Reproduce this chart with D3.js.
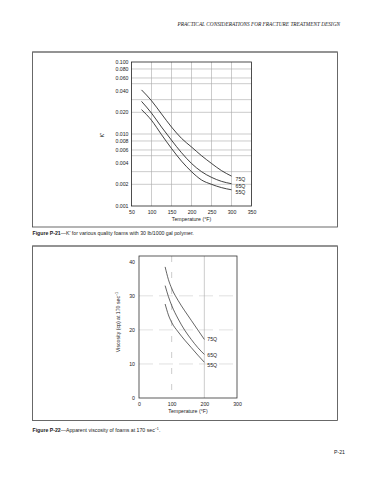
<!DOCTYPE html>
<html>
<head>
<meta charset="utf-8">
<script src="https://cdn.jsdelivr.net/npm/d3@7"></script>
<style>
  body { margin: 0; background: #fff; }
  text { font-family: "Liberation Sans", Arial, sans-serif; fill: #222; }
</style>
</head>
<body>
<svg id="page" width="370" height="480"></svg>
<script>
// values

// Figure P-21: K' vs temperature (log scale)
const kTemps = [75, 100, 125, 150, 175, 200, 225, 250, 275, 300];
const k75Q = [0.041, 0.029, 0.019, 0.0125, 0.0087, 0.0066, 0.0050, 0.0039, 0.0031, 0.0026];
const k65Q = [0.0284, 0.0195, 0.0125, 0.0082, 0.0055, 0.0039, 0.0030, 0.0025, 0.0022, 0.00204];
const k55Q = [0.0218, 0.0155, 0.0098, 0.0063, 0.0042, 0.0030, 0.0023, 0.0020, 0.0018, 0.00168];
const kTicks = [0.1, 0.08, 0.06, 0.04, 0.02, 0.01, 0.008, 0.006, 0.004, 0.002, 0.001];
const kGrid = [0.08, 0.06, 0.05, 0.03, 0.02, 0.01, 0.008, 0.006, 0.005, 0.003, 0.002];
const kTempTicks = [50, 100, 150, 200, 250, 300, 350];

// Figure P-22: apparent viscosity at 170 sec-1
const vTemps = [80, 90, 100, 120, 140, 160, 180, 200];
const v75Q = [38.5, 34.8, 32.2, 28.6, 25.6, 22.8, 20, 17.2];
const v65Q = [33, 29.8, 27.2, 23.2, 19.9, 17.2, 14.8, 12.8];
const v55Q = [27.6, 24.4, 22.2, 19.4, 17.0, 14.8, 12.6, 10.5];
const vTicks = [0, 10, 20, 30, 40];
const vTempTicks = [0, 100, 200, 300];

const seriesNames = ['75Q', '65Q', '55Q'];

const svg = d3.select('#page');
const fs = 5.2;

svg.append('rect').attr('width', 370).attr('height', 480).attr('fill', '#fff');

// running header
svg.append('text')
  .attr('x', 340).attr('y', 26)
  .attr('text-anchor', 'end')
  .style('font-family', '"Liberation Serif", "Times New Roman", serif')
  .style('font-style', 'italic')
  .style('font-size', '5.3px')
  .text('PRACTICAL CONSIDERATIONS FOR FRACTURE TREATMENT DESIGN');

// figure boxes
function box(y0, y1) {
  svg.append('rect')
    .attr('x', 32.5).attr('y', y0)
    .attr('width', 305).attr('height', y1 - y0)
    .attr('fill', 'none')
    .attr('stroke', '#444')
    .attr('stroke-width', 0.8);
  svg.append('line')
    .attr('x1', 32.5).attr('x2', 337.5)
    .attr('y1', y0).attr('y2', y0)
    .attr('stroke', '#888')
    .attr('stroke-width', 1.4);
}
box(52, 227);
box(246, 420.5);

const line = d3.line().curve(d3.curveMonotoneX);

// ---------- Figure P-21 ----------
const x1 = d3.scaleLinear().domain([50, 350]).range([131.5, 251.5]);
const y1 = d3.scaleLog().domain([0.001, 0.1]).range([206, 62]);

const g1 = svg.append('g');

g1.selectAll('.hgrid')
  .data(kGrid)
  .enter().append('line')
  .attr('x1', x1(50)).attr('x2', x1(350))
  .attr('y1', d => y1(d)).attr('y2', d => y1(d))
  .attr('stroke', '#aaa')
  .attr('stroke-width', 0.6);

g1.selectAll('.vgrid')
  .data(kTempTicks.slice(1, -1))
  .enter().append('line')
  .attr('x1', d => x1(d)).attr('x2', d => x1(d))
  .attr('y1', y1(0.1)).attr('y2', y1(0.001))
  .attr('stroke', '#aaa')
  .attr('stroke-width', 0.6);

g1.append('rect')
  .attr('x', x1(50)).attr('y', y1(0.1))
  .attr('width', x1(350) - x1(50))
  .attr('height', y1(0.001) - y1(0.1))
  .attr('fill', 'none')
  .attr('stroke', '#222')
  .attr('stroke-width', 0.8);

const yAxis1 = g1.append('g')
  .attr('transform', `translate(${x1(50)},0)`)
  .call(d3.axisLeft(y1).tickValues(kTicks).tickFormat(d3.format('.3f')).tickSize(0).tickPadding(3));
const xAxis1 = g1.append('g')
  .attr('transform', `translate(0,${y1(0.001)})`)
  .call(d3.axisBottom(x1).tickValues(kTempTicks).tickSize(0).tickPadding(4));
[yAxis1, xAxis1].forEach(a => {
  a.select('.domain').remove();
  a.selectAll('text').style('font-size', fs + 'px').attr('fill', '#222');
});

g1.append('text')
  .attr('x', x1(200)).attr('y', 221)
  .attr('text-anchor', 'middle')
  .style('font-size', fs + 'px')
  .text('Temperature (°F)');

g1.append('text')
  .attr('transform', 'translate(104,135) rotate(-90)')
  .attr('text-anchor', 'middle')
  .style('font-size', '5.6px')
  .text("K'");

const kSeries = [k75Q, k65Q, k55Q];
kSeries.forEach((vals, i) => {
  const pts = kTemps.map((t, j) => [x1(t), y1(vals[j])]);
  g1.append('path')
    .attr('d', line(pts))
    .attr('fill', 'none')
    .attr('stroke', '#111')
    .attr('stroke-width', 0.8);
  g1.append('text')
    .attr('x', x1(kTemps[kTemps.length - 1]) + 4)
    .attr('y', y1(vals[vals.length - 1]) + 4.5)
    .style('font-size', fs + 'px')
    .text(seriesNames[i]);
});

const cap1 = svg.append('text')
  .attr('x', 32.5).attr('y', 235)
  .style('font-size', fs + 'px');
cap1.append('tspan').style('font-weight', 'bold').text('Figure P-21');
cap1.append('tspan').text("—K' for various quality foams with 30 lb/1000 gal polymer.");

// ---------- Figure P-22 ----------
const x2 = d3.scaleLinear().domain([0, 300]).range([139, 237]);
const y2 = d3.scaleLinear().domain([0, 41.7]).range([398, 256]);

const g2 = svg.append('g');

g2.selectAll('.hgrid')
  .data(vTicks.slice(1, -1))
  .enter().append('line')
  .attr('x1', x2(0)).attr('x2', x2(300))
  .attr('y1', d => y2(d)).attr('y2', d => y2(d))
  .attr('stroke', '#ccc')
  .attr('stroke-width', 0.6)
  .attr('stroke-dasharray', '14,6');

g2.selectAll('.vgrid')
  .data(vTempTicks.slice(1, -1))
  .enter().append('line')
  .attr('x1', d => x2(d)).attr('x2', d => x2(d))
  .attr('y1', y2(41.7)).attr('y2', y2(0))
  .attr('stroke', '#aaa')
  .attr('stroke-width', 0.6)
  .attr('stroke-dasharray', (d, i) => i === 0 ? '6,10' : null);

g2.append('rect')
  .attr('x', x2(0)).attr('y', y2(41.7))
  .attr('width', x2(300) - x2(0))
  .attr('height', y2(0) - y2(41.7))
  .attr('fill', 'none')
  .attr('stroke', '#333')
  .attr('stroke-width', 0.8);

const yAxis2 = g2.append('g')
  .attr('transform', `translate(${x2(0)},0)`)
  .call(d3.axisLeft(y2).tickValues(vTicks).tickSize(0).tickPadding(4));
const xAxis2 = g2.append('g')
  .attr('transform', `translate(0,${y2(0)})`)
  .call(d3.axisBottom(x2).tickValues(vTempTicks).tickSize(0).tickPadding(4));
[yAxis2, xAxis2].forEach(a => {
  a.select('.domain').remove();
  a.selectAll('text').style('font-size', fs + 'px').attr('fill', '#222');
});

g2.append('text')
  .attr('x', x2(150)).attr('y', 413)
  .attr('text-anchor', 'middle')
  .style('font-size', fs + 'px')
  .text('Temperature (°F)');

const yl = g2.append('text')
  .attr('transform', 'translate(120,322) rotate(-90)')
  .attr('text-anchor', 'middle')
  .style('font-size', fs + 'px');
yl.append('tspan').text('Viscosity (cp) at 170 sec');
yl.append('tspan').attr('dy', -2).style('font-size', '3.6px').text('−1');

const vSeries = [v75Q, v65Q, v55Q];
const labelNudge = [2, 3, 5];
vSeries.forEach((vals, i) => {
  const pts = vTemps.map((t, j) => [x2(t), y2(vals[j])]);
  g2.append('path')
    .attr('d', line(pts))
    .attr('fill', 'none')
    .attr('stroke', '#222')
    .attr('stroke-width', 0.7);
  g2.append('text')
    .attr('x', x2(vTemps[vTemps.length - 1]) + 3)
    .attr('y', y2(vals[vals.length - 1]) + labelNudge[i])
    .style('font-size', fs + 'px')
    .text(seriesNames[i]);
});

const cap2 = svg.append('text')
  .attr('x', 32.5).attr('y', 432)
  .style('font-size', fs + 'px');
cap2.append('tspan').style('font-weight', 'bold').text('Figure P-22');
cap2.append('tspan').text('—Apparent viscosity of foams at 170 sec');
cap2.append('tspan').attr('dy', -2).style('font-size', '3.6px').text('−1');
cap2.append('tspan').attr('dy', 2).text('.');

// page number
svg.append('text')
  .attr('x', 345).attr('y', 454)
  .attr('text-anchor', 'end')
  .style('font-size', fs + 'px')
  .text('P-21');
</script>
</body>
</html>
